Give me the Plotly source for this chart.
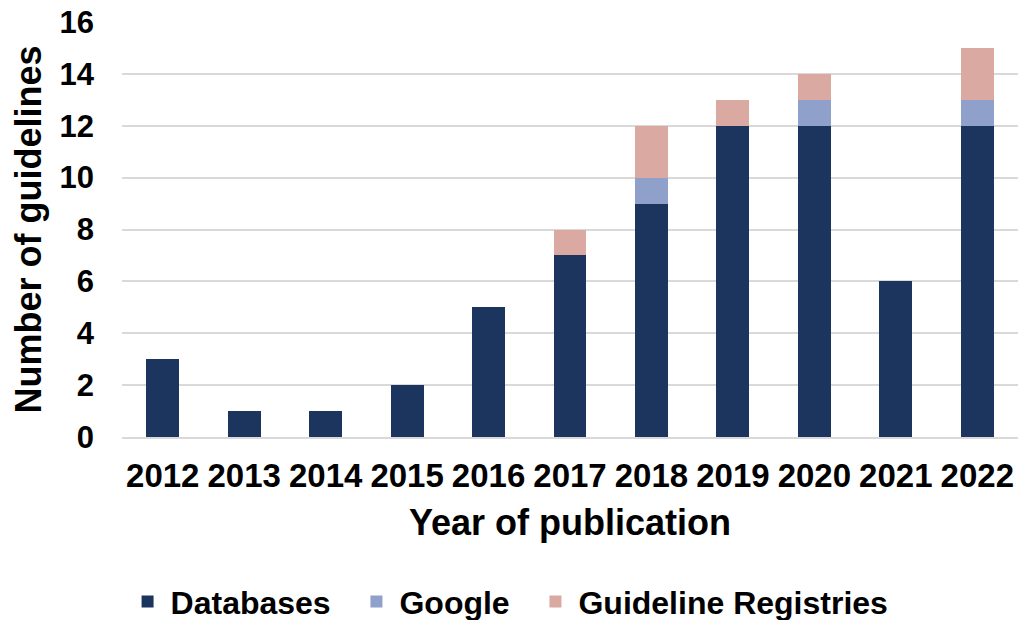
import plotly.graph_objects as go

years = ["2012", "2013", "2014", "2015", "2016", "2017", "2018", "2019", "2020", "2021", "2022"]
databases = [3, 1, 1, 2, 5, 7, 9, 12, 12, 6, 12]
google = [0, 0, 0, 0, 0, 0, 1, 0, 1, 0, 1]
registries = [0, 0, 0, 0, 0, 1, 2, 1, 1, 0, 2]

font_family = "Liberation Sans, Arial, sans-serif"
pad = "\u00a0\u00a0"

fig = go.Figure()
fig.add_bar(x=years, y=databases, name="<b>Databases</b>" + pad, marker_color="#1C355E", marker_line_width=0)
fig.add_bar(x=years, y=google, name="<b>Google</b>" + pad, marker_color="#8FA0CB", marker_line_width=0)
fig.add_bar(x=years, y=registries, name="<b>Guideline Registries</b>", marker_color="#DAA9A2", marker_line_width=0)

fig.update_layout(
    barmode="stack",
    bargap=0.595,
    width=1021, height=620,
    margin=dict(l=122, r=3, t=22, b=183, autoexpand=False),
    plot_bgcolor="white", paper_bgcolor="white",
    font=dict(family=font_family, color="black"),
    legend=dict(orientation="h", x=0.432, xanchor="center", y=-0.397, yanchor="middle",
                traceorder="normal",
                font=dict(size=32, family=font_family), itemwidth=36, tracegroupgap=0),
    xaxis=dict(
        title=dict(text="<b>Year of publication</b>", font=dict(size=36), standoff=17),
        tickfont=dict(size=33), tickprefix="<b>", ticksuffix="</b>",
        showline=True, linecolor="#D9D9D9", linewidth=2, ticks="",
        automargin=False, ticklabelstandoff=8,
    ),
    yaxis=dict(
        title=dict(text="<b>Number of guidelines</b>", font=dict(size=36), standoff=6),
        range=[0, 16], dtick=2, tickfont=dict(size=31), tickprefix="<b>", ticksuffix="</b>",
        showgrid=True, gridcolor="#D9D9D9", gridwidth=2, zeroline=False, ticks="",
        automargin=False, ticklabelstandoff=27,
    ),
)

fig.write_html("out.html", config={"displayModeBar": False},
               post_script="document.body.style.margin='0';document.body.style.overflow='hidden';")
